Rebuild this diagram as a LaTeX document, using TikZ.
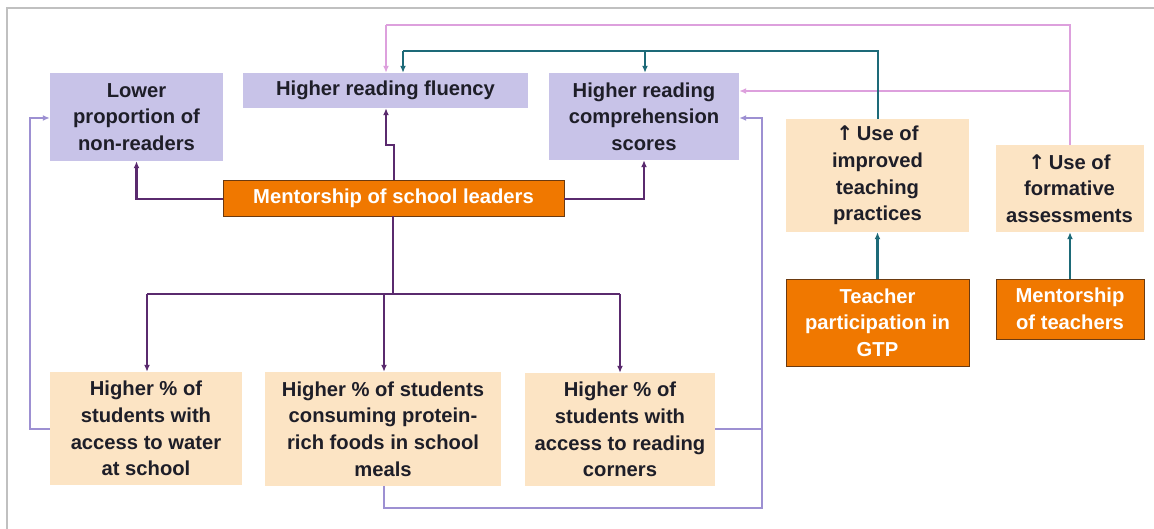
\documentclass[tikz,border=0pt]{standalone}
\usepackage{fontspec}
\setmainfont{Liberation Sans}
\newfontfamily\arrowf{DejaVu Sans}
\usetikzlibrary{arrows.meta}
\definecolor{lav}{HTML}{C8C3E8}
\definecolor{peach}{HTML}{FCE4C4}
\definecolor{orng}{HTML}{F07800}
\definecolor{orngline}{HTML}{6B3A10}
\definecolor{pur}{HTML}{5A2A6E}
\definecolor{teal}{HTML}{1D6A78}
\definecolor{pink}{HTML}{DDA0DD}
\definecolor{lavline}{HTML}{9D90D2}
\definecolor{frame}{HTML}{C0C0C0}
\definecolor{txt}{HTML}{1E1E28}
\tikzset{
  box/.style={inner sep=2pt, align=center, font=\fontsize{20.2}{26.6}\selectfont\bfseries, text=txt},
  lavbox/.style={box, fill=lav},
  peachbox/.style={box, fill=peach},
  orbox/.style={box, fill=orng, draw=orngline, line width=0.8pt, text=white},
  tip/.style={-{Latex[length=7pt,width=6pt]}},
  pu/.style={draw=pur, line width=2.6pt, tip},
  pul/.style={draw=pur, line width=2.6pt},
  te/.style={draw=teal, line width=2.7pt, tip},
  tel/.style={draw=teal, line width=2.7pt},
  pk/.style={draw=pink, line width=2.4pt, tip},
  pkl/.style={draw=pink, line width=2.4pt},
  lv/.style={draw=lavline, line width=2.5pt, tip},
  lvl/.style={draw=lavline, line width=2.5pt},
}
\begin{document}
\begin{tikzpicture}[x=1pt,y=-1pt]
\useasboundingbox (0,0) rectangle (1154,529);
\fill[white] (0,0) rectangle (1154,529);
\draw[frame, line width=2pt] (7,529) -- (7,8) -- (1154,8);

% boxes
\node[lavbox, minimum width=173pt, minimum height=88pt] (low) at (136.5,117) {Lower\\proportion of\\non-readers};
\node[lavbox, minimum width=285pt, minimum height=35pt] (flu) at (385.5,90.5) {Higher reading fluency};
\node[lavbox, minimum width=190pt, minimum height=87pt] (comp) at (644,116.5) {Higher reading\\comprehension\\scores};
\node[orbox, minimum width=341pt, minimum height=36pt] (msl) at (393.5,198) {Mentorship of school leaders};
\node[peachbox, minimum width=183pt, minimum height=113pt] (imp) at (877.5,175.5) {{\arrowf ↑}\,Use of\\improved\\teaching\\practices};
\node[peachbox, minimum width=148pt, minimum height=87pt] (form) at (1069.5,188.5) {{\arrowf ↑}\,Use of\\formative\\assessments};
\node[orbox, minimum width=183pt, minimum height=87pt] (tgtp) at (877.5,322.5) {Teacher\\participation in\\GTP};
\node[orbox, minimum width=148pt, minimum height=60pt] (mot) at (1070,309) {Mentorship\\of teachers};
\node[peachbox, minimum width=192pt, minimum height=113pt] (water) at (146,428.5) {Higher \% of\\students with\\access to water\\at school};
\node[peachbox, minimum width=236pt, minimum height=114pt] (prot) at (383,429) {Higher \% of students\\consuming protein-\\rich foods in school\\meals};
\node[peachbox, minimum width=190pt, minimum height=113pt] (corn) at (620,429.5) {Higher \% of\\students with\\access to reading\\corners};

% helper coordinates
\coordinate (pkR) at (1070,25);
\coordinate (pkL) at (386,25);
\coordinate (pkB) at (1070,91);
\coordinate (teR) at (878,51);
\coordinate (teL) at (403,51);
\coordinate (teB) at (645,51);
\coordinate (fj1) at (394,145);
\coordinate (fj2) at (386,145);
\coordinate (hj) at (393,294);
\coordinate (hL) at (147,294);
\coordinate (hM) at (384,294);
\coordinate (hR) at (620,294);
\coordinate (lvL) at (30,118);
\coordinate (lvR) at (762,118);
\coordinate (lvB) at (762,508);
\coordinate (lvC) at (762,429);
\coordinate (pb) at (384,508);

% pink
\draw[pkl] (form.north -| pkR) -- (pkR) -- (pkL);
\draw[pk] (pkL) -- (pkL |- flu.north);
\draw[pk] (pkB) -- (pkB -| comp.east);

% teal
\draw[tel] (imp.north -| teR) -- (teR) -- (teL);
\draw[te] (teL) -- (teL |- flu.north);
\draw[te] (teB) -- (teB |- comp.north);
\draw[te] (tgtp.north) -- (imp.south);
\draw[te] (mot.north) -- (mot.north |- form.south);

% purple
\draw[pu] (msl.west |- 0,199) -| (low.south);
\draw[pu] (msl.east |- 0,199) -| (comp.south);
\draw[pu] (fj1 |- msl.north) -- (fj1) -- (fj2) -- (fj2 |- flu.south);
\draw[pul] (hj |- msl.south) -- (hj);
\draw[pul] (hL) -- (hR);
\draw[pu] (hL) -- (hL |- water.north);
\draw[pu] (hM) -- (hM |- prot.north);
\draw[pu] (hR) -- (hR |- corn.north);

% lavender
\draw[lv] (water.west |- 0,429) -| (lvL) -- (lvL -| low.west);
\draw[lvl] (corn.east |- lvC) -- (lvC);
\draw[lv] (pb |- prot.south) -- (pb) -- (lvB) -- (lvR) -- (lvR -| comp.east);
\end{tikzpicture}
\end{document}
